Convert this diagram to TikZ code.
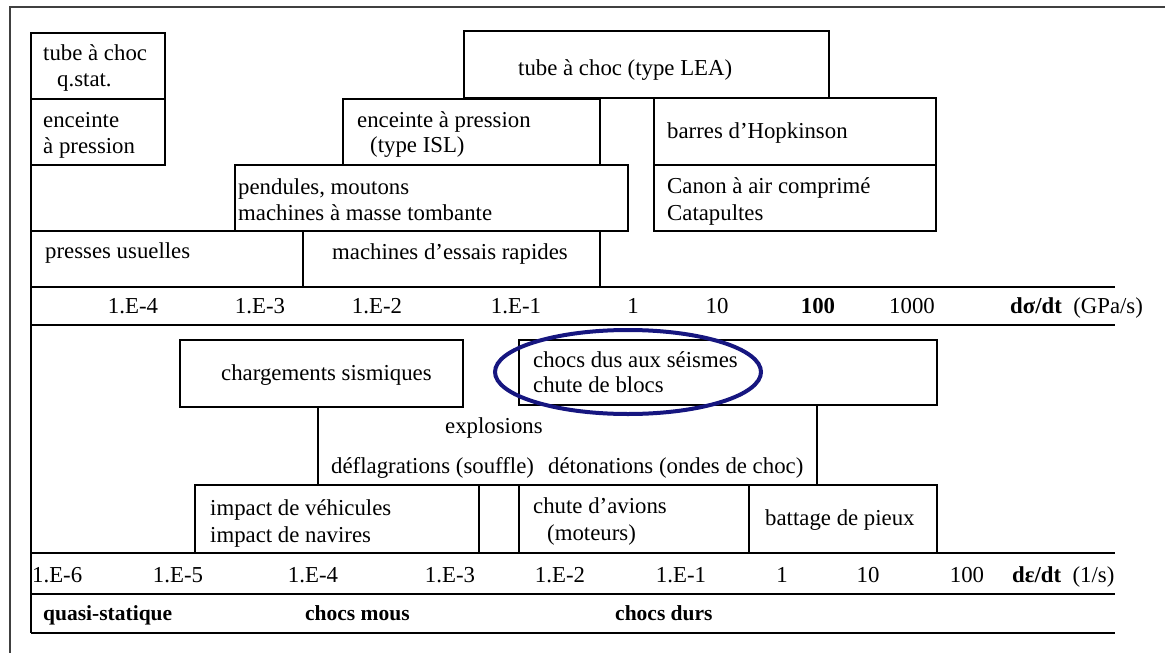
\documentclass[tikz,border=0pt]{standalone}
\usepackage{fontspec}
\setmainfont{Liberation Serif}
\begin{document}
\begin{tikzpicture}[x=1pt,y=-1pt,
  box/.style={draw=black,line width=1.9pt},
  axisline/.style={draw=black,line width=2.5pt},
  frameline/.style={draw=black!75,line width=1.8pt},
  lbl/.style={anchor=base west,inner sep=0pt,font=\fontsize{22.8}{27}\selectfont},
  blbl/.style={anchor=base west,inner sep=0pt,font=\fontsize{21.5}{26}\selectfont\bfseries},
  tick/.style={anchor=base,inner sep=0pt,font=\fontsize{22.8}{27}\selectfont},
  btick/.style={anchor=base,inner sep=0pt,font=\fontsize{22.8}{27}\selectfont\bfseries},
  halo/.style={draw={rgb,255:red,22;green,22;blue,128},line width=4pt}]
\useasboundingbox (0,0) rectangle (1165,653);
% outer frame (cut by the page)
\draw[frameline] (10,660) -- (10,7) -- (1170,7);
% ---------- upper part: boxes ----------
\draw[box] (31,33) rectangle (165,99);
\draw[box] (31,99) rectangle (165,165);
\draw[box] (464,31) rectangle (829,98);
\draw[box] (343,99) rectangle (600,165);
\draw[box] (654,98) rectangle (936,165);
\draw[box] (654,165) rectangle (936,231);
\draw[box] (235,165) rectangle (628,231);
\draw[box] (31,231) rectangle (303,287);
\draw[box] (303,231) rectangle (600,287);
\draw[box] (31,165) -- (31,231);
% upper axis
\draw[axisline] (31,287) -- (1115,287);
\draw[axisline] (31,325) -- (1115,325);
\draw[box] (31,287) -- (31,325);
% ---------- lower part: boxes ----------
\draw[box] (31,325) -- (31,633);
\draw[box] (180,340) rectangle (463,407);
\draw[box] (519,340) rectangle (937,405);
\draw[box] (318,407) -- (318,485);
\draw[box] (817,405) -- (817,485);
\draw[box] (195,485) rectangle (937,553);
\draw[box] (479,485) -- (479,553);
\draw[box] (519,485) -- (519,553);
\draw[box] (749,485) -- (749,553);
% lower axis
\draw[axisline] (31,553) -- (1115,553);
\draw[axisline] (31,594) -- (1115,594);
\draw[axisline] (31,633) -- (1115,633);
% ---------- texts, upper ----------
\node[lbl] (tq1) at (43,60) {tube à choc};
\node[lbl] (tq2) at (57,86) {q.stat.};
\node[lbl] (ep1) at (43,127) {enceinte};
\node[lbl] (ep2) at (43,153) {à pression};
\node[lbl] (lea) at (518,75) {tube à choc (type LEA)};
\node[lbl] (isl1) at (357,127) {enceinte à pression};
\node[lbl] (isl2) at (370,152) {(type ISL)};
\node[lbl] (hop) at (667,138) {barres d'Hopkinson};
\node[lbl] (can1) at (667,193) {Canon à air comprimé};
\node[lbl] (can2) at (667,220) {Catapultes};
\node[lbl] (pen1) at (238,194) {pendules, moutons};
\node[lbl] (pen2) at (238,220) {machines à masse tombante};
\node[lbl] (pre) at (45,258) {presses usuelles};
\node[lbl] (mer) at (332,259) {machines d'essais rapides};
% upper axis labels
\node[tick] (s4) at (133,313) {1.E-4};
\node[tick] (s3) at (260,313) {1.E-3};
\node[tick] (s2) at (377,313) {1.E-2};
\node[tick] (s1) at (516,313) {1.E-1};
\node[tick] (s0) at (633,313) {1};
\node[tick] (s10) at (717,313) {10};
\node[btick] (s100) at (818,313) {100};
\node[tick] (s1000) at (912,313) {1000};
\node[lbl] (sunit) at (1010,313) {\textbf{d\char"03C3/dt}\ \ (GPa/s)};
% ---------- texts, lower ----------
\node[lbl] (sis) at (221,380) {chargements sismiques};
\node[lbl] (cds1) at (533,367) {chocs dus aux séismes};
\node[lbl] (cds2) at (533,392) {chute de blocs};
\node[lbl] (exp) at (445,433) {explosions};
\node[lbl] (def) at (331,473) {déflagrations (souffle)};
\node[lbl] (det) at (548,473) {détonations (ondes de choc)};
\node[lbl] (imp1) at (210,515) {impact de véhicules};
\node[lbl] (imp2) at (210,542) {impact de navires};
\node[lbl] (cha1) at (533,513) {chute d'avions};
\node[lbl] (cha2) at (547,540) {(moteurs)};
\node[lbl] (bat) at (765,525) {battage de pieux};
% lower axis labels
\node[lbl] (e6) at (32,582) {1.E-6};
\node[tick] (e5) at (178,582) {1.E-5};
\node[tick] (e4) at (313,582) {1.E-4};
\node[tick] (e3) at (450,582) {1.E-3};
\node[tick] (e2) at (560,582) {1.E-2};
\node[tick] (e1) at (681,582) {1.E-1};
\node[tick] (e0) at (782,582) {1};
\node[tick] (e10) at (868,582) {10};
\node[tick] (e100) at (967,582) {100};
\node[lbl] (eunit) at (1012,582) {\textbf{d\char"03B5/dt}\ \ (1/s)};
% regime labels
\node[blbl] (qs) at (43,620) {quasi-statique};
\node[blbl] (cm) at (305,620) {chocs mous};
\node[blbl] (cd) at (615,620) {chocs durs};
% highlight ellipse
\draw[halo] (628,372) ellipse [x radius=133, y radius=42];
\end{tikzpicture}
\end{document}
